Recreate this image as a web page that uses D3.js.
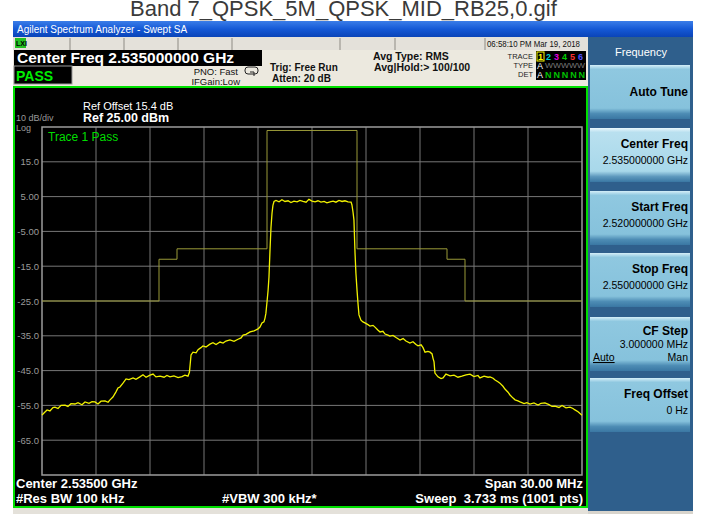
<!DOCTYPE html>
<html>
<head>
<meta charset="utf-8">
<title>Band 7 QPSK 5M</title>
<script src="https://d3js.org/d3.v7.min.js"></script>
<style>
  body { margin: 0; background: #fff; }
  svg { display: block; font-family: "Liberation Sans", Arial, sans-serif; }
</style>
</head>
<body>
<div id="chart"></div>
<script>
// trace 1: frequency offset from center (MHz) and level (dBm)
var traceMHz = [-15.00,-14.89,-14.72,-14.56,-14.39,-14.28,-14.11,-13.94,-13.72,-13.56,-13.39,-13.17,-13.00,-12.78,-12.61,-12.39,-12.22,-12.06,-11.89,-11.72,
  -11.50,-11.33,-11.22,-11.06,-10.89,-10.78,-10.67,-10.50,-10.33,-10.17,-9.94,-9.78,-9.56,-9.39,-9.22,-9.00,-8.83,-8.67,-8.44,-8.22,
  -8.06,-7.89,-7.67,-7.44,-7.22,-7.06,-6.89,-6.81,-6.72,-6.61,-6.44,-6.33,-6.17,-6.06,-5.89,-5.67,-5.50,-5.33,-5.11,-4.94,
  -4.78,-4.56,-4.33,-4.11,-3.94,-3.83,-3.67,-3.44,-3.22,-3.00,-2.89,-2.78,-2.67,-2.61,-2.56,-2.50,-2.44,-2.39,-2.33,-2.28,
  -2.22,-2.17,-2.11,-2.00,-1.83,-1.67,-1.50,-1.33,-1.17,-1.00,-0.83,-0.67,-0.50,-0.33,-0.17,0.00,0.17,0.33,0.50,0.67,
  0.83,1.00,1.17,1.33,1.50,1.67,1.83,2.00,2.17,2.22,2.28,2.33,2.39,2.44,2.50,2.56,2.61,2.72,2.83,2.94,
  3.11,3.22,3.39,3.50,3.67,3.78,3.94,4.06,4.22,4.33,4.50,4.67,4.89,5.06,5.22,5.44,5.61,5.78,5.89,6.06,
  6.17,6.28,6.44,6.56,6.67,6.72,6.78,6.83,7.00,7.17,7.28,7.44,7.67,7.89,8.11,8.33,8.56,8.78,9.00,9.22,
  9.33,9.56,9.78,9.89,10.06,10.17,10.33,10.44,10.61,10.72,10.89,11.00,11.17,11.28,11.44,11.56,11.78,11.94,12.11,12.33,
  12.56,12.72,12.94,13.17,13.33,13.50,13.72,13.89,14.11,14.33,14.50,14.61,14.78,14.89,15.00];
var traceDbm = [-57.8,-57.2,-56.3,-56.6,-55.6,-55.5,-55.9,-55.0,-54.9,-55.3,-54.5,-54.6,-54.2,-54.8,-54.0,-54.4,-53.9,-54.0,-54.6,-53.8,
  -53.7,-54.1,-53.4,-52.6,-51.1,-50.0,-49.7,-48.6,-47.4,-47.6,-47.1,-47.5,-46.8,-46.2,-46.9,-46.3,-46.0,-46.8,-46.6,-46.9,
  -46.4,-46.8,-46.5,-47.0,-46.7,-46.3,-46.6,-45.5,-40.5,-39.7,-39.9,-39.0,-38.4,-37.9,-38.2,-37.4,-37.0,-37.5,-36.8,-37.1,
  -36.5,-36.2,-36.6,-36.0,-35.6,-34.8,-34.6,-33.9,-33.6,-33.0,-32.5,-31.3,-31.0,-29.9,-28.5,-25.3,-22.0,-18.1,-10.0,-4.0,
  0.3,2.5,3.6,3.9,3.5,4.1,3.6,3.8,3.3,3.7,3.5,3.9,3.6,3.4,4.2,3.7,3.5,3.8,3.4,3.6,
  3.2,3.5,3.7,3.4,3.9,3.6,3.8,3.5,3.4,2.6,0.5,-1.7,-11.2,-17.0,-21.8,-26.0,-29.0,-30.5,-31.0,-31.3,
  -31.8,-32.2,-32.0,-32.5,-33.4,-33.9,-33.7,-34.5,-34.8,-35.1,-34.9,-35.5,-36.2,-35.8,-36.5,-37.1,-36.7,-37.5,-37.9,-37.6,
  -38.4,-39.7,-39.5,-39.7,-40.2,-41.4,-42.5,-45.7,-46.8,-47.3,-47.1,-46.0,-46.5,-46.3,-46.9,-46.6,-46.2,-46.0,-46.7,-46.4,
  -47.1,-46.6,-46.9,-46.8,-47.2,-47.7,-48.2,-48.6,-49.5,-50.3,-51.2,-52.0,-52.9,-53.4,-53.7,-54.0,-54.5,-54.2,-54.6,-54.3,
  -54.9,-54.4,-54.3,-54.8,-55.3,-55.2,-55.6,-55.0,-55.7,-55.5,-55.9,-56.3,-56.8,-57.3,-57.8];

// limit mask: segment edges (MHz offset) and level of each segment (dBm)
var maskEdges = [-15, -8.5, -7.5, -2.5, 2.5, 7.5, 8.5, 15];
var maskLevels = [-25, -13, -10, 24, -10, -13, -25];

var yTicks = [15, 5, -5, -15, -25, -35, -45, -55, -65];
var yTickLabels = ["15.0", "5.00", "-5.00", "-15.0", "-25.0", "-35.0", "-45.0", "-55.0", "-65.0"];
var xTicks = [-12, -9, -6, -3, 0, 3, 6, 9, 12];

var softkeys = [
  { title: "Auto Tune", value: "" },
  { title: "Center Freq", value: "2.535000000 GHz" },
  { title: "Start Freq", value: "2.520000000 GHz" },
  { title: "Stop Freq", value: "2.550000000 GHz" },
  { title: "CF Step", value: "3.000000 MHz" },
  { title: "Freq Offset", value: "0 Hz" }
];

var W = 702, H = 514;
var svg = d3.select("#chart").append("svg").attr("width", W).attr("height", H);

var defs = svg.append("defs");
var tg = defs.append("linearGradient").attr("id", "tbar").attr("x1", 0).attr("y1", 0).attr("x2", 0).attr("y2", 1);
tg.append("stop").attr("offset", "0").attr("stop-color", "#3b7de8");
tg.append("stop").attr("offset", "0.5").attr("stop-color", "#1559d6");
tg.append("stop").attr("offset", "1").attr("stop-color", "#0a44b8");
var kg = defs.append("linearGradient").attr("id", "key").attr("x1", 0).attr("y1", 0).attr("x2", 0).attr("y2", 1);
kg.append("stop").attr("offset", "0").attr("stop-color", "#d4eef8");
kg.append("stop").attr("offset", "0.08").attr("stop-color", "#8fc8e0");
kg.append("stop").attr("offset", "0.8").attr("stop-color", "#86c2dc");
kg.append("stop").attr("offset", "0.9").attr("stop-color", "#4d8cb4");
kg.append("stop").attr("offset", "1").attr("stop-color", "#3a77a3");
var kg2 = defs.append("linearGradient").attr("id", "keySel").attr("x1", 0).attr("y1", 0).attr("x2", 0).attr("y2", 1);
kg2.append("stop").attr("offset", "0").attr("stop-color", "#eaf7fc");
kg2.append("stop").attr("offset", "0.08").attr("stop-color", "#b9e0ef");
kg2.append("stop").attr("offset", "0.8").attr("stop-color", "#a8d8ea");
kg2.append("stop").attr("offset", "0.9").attr("stop-color", "#5d98bd");
kg2.append("stop").attr("offset", "1").attr("stop-color", "#3a77a3");

// file name above the window (top is cut off in the original)
svg.append("text").attr("x", 130).attr("y", 16).attr("fill", "#3a3a3a")
  .style("font-size", "22px").text("Band 7_QPSK_5M_QPSK_MID_RB25,0.gif");

// window frame
svg.append("rect").attr("x", 13).attr("y", 21).attr("width", 680).attr("height", 493).attr("fill", "#d8d4cc");
svg.append("rect").attr("x", 13).attr("y", 21).attr("width", 680).attr("height", 16).attr("fill", "url(#tbar)");
svg.append("text").attr("x", 17).attr("y", 33).attr("fill", "#fff").style("font-size", "10px")
  .text("Agilent Spectrum Analyzer - Swept SA");

// status row
svg.append("rect").attr("x", 13).attr("y", 37).attr("width", 575).attr("height", 13).attr("fill", "#e4e1da");
svg.append("rect").attr("x", 15).attr("y", 38).attr("width", 11).attr("height", 10).attr("fill", "#22c022");
svg.append("text").attr("x", 16).attr("y", 46).attr("fill", "#000").style("font-size", "7px").style("font-weight", "bold").text("LXI");
var status = [[34, "R L"], [92, "RF"], [128, "50 \u03a9"], [159, "DC"], [300, "SENSE:INT"], [420, "ALIGN AUTO"]];
svg.selectAll(".st").data(status).enter().append("text")
  .attr("x", d => d[0]).attr("y", 47).attr("fill", "#666").style("font-size", "9px").text(d => d[1]);
svg.selectAll(".sep").data([70, 124, 178, 232, 340, 395, 485]).enter().append("line")
  .attr("x1", d => d).attr("x2", d => d).attr("y1", 38).attr("y2", 50).attr("stroke", "#8e8b84");
svg.append("text").attr("x", 487).attr("y", 47).attr("fill", "#111").style("font-size", "8.5px")
  .attr("textLength", 93).attr("lengthAdjust", "spacingAndGlyphs")
  .text("06:58:10 PM Mar 19, 2018");

// header area
svg.append("rect").attr("x", 13).attr("y", 50).attr("width", 575).attr("height", 37).attr("fill", "#ece9df");
svg.append("rect").attr("x", 14).attr("y", 50).attr("width", 248).attr("height", 16).attr("fill", "#000");
svg.append("text").attr("x", 17).attr("y", 63).attr("fill", "#fff").style("font-size", "15.5px").style("font-weight", "bold")
  .text("Center Freq 2.535000000 GHz");
svg.append("rect").attr("x", 14).attr("y", 66).attr("width", 58).attr("height", 18).attr("fill", "#000")
  .attr("stroke", "#9a9a9a");
svg.append("text").attr("x", 16).attr("y", 81).attr("fill", "#00ee00").style("font-size", "14px").style("font-weight", "bold")
  .text("PASS");
svg.append("text").attr("x", 238).attr("y", 75).attr("text-anchor", "end").attr("fill", "#111").style("font-size", "9.5px").text("PNO: Fast");
svg.append("text").attr("x", 240).attr("y", 85).attr("text-anchor", "end").attr("fill", "#111").style("font-size", "9.5px").text("IFGain:Low");
svg.append("rect").attr("x", 245).attr("y", 67).attr("width", 13).attr("height", 7).attr("rx", 3)
  .attr("fill", "none").attr("stroke", "#222");
svg.append("path").attr("d", "M250,72 L254,72 L254,76").attr("fill", "none").attr("stroke", "#222");
svg.append("text").attr("x", 270).attr("y", 71).attr("fill", "#111").style("font-size", "10px").style("font-weight", "bold").text("Trig: Free Run");
svg.append("text").attr("x", 272).attr("y", 82).attr("fill", "#111").style("font-size", "10px").style("font-weight", "bold").text("Atten: 20 dB");
svg.append("text").attr("x", 373).attr("y", 60).attr("fill", "#111").style("font-size", "10.5px").style("font-weight", "bold").text("Avg Type: RMS");
svg.append("text").attr("x", 374).attr("y", 71).attr("fill", "#111").style("font-size", "10.5px").style("font-weight", "bold").text("Avg|Hold:> 100/100");

// trace indicator box
svg.selectAll(".tl").data([[59, "TRACE"], [68, "TYPE"], [77, "DET"]]).enter().append("text")
  .attr("x", 533).attr("y", d => d[0]).attr("text-anchor", "end").attr("fill", "#222").style("font-size", "7.5px").text(d => d[1]);
svg.append("rect").attr("x", 536).attr("y", 51).attr("width", 50).attr("height", 29).attr("fill", "#000");
var trColors = ["#ffff00", "#00d0d0", "#e000e0", "#00d000", "#ff3030", "#5050ff"];
svg.append("rect").attr("x", 537).attr("y", 52).attr("width", 7).attr("height", 9).attr("fill", "#000").attr("stroke", "#ffff00");
svg.selectAll(".tn").data(trColors).enter().append("text")
  .attr("x", (d, i) => 538 + i * 8).attr("y", 60).attr("fill", d => d).style("font-size", "9px").style("font-weight", "bold")
  .text((d, i) => i + 1);
svg.append("text").attr("x", 537).attr("y", 69).attr("fill", "#fff").style("font-size", "9px").text("A");
svg.append("text").attr("x", 545).attr("y", 68).attr("fill", "#777").attr("textLength", 40).attr("lengthAdjust", "spacingAndGlyphs")
  .style("font-size", "6.5px").text("WWWWW");
svg.append("text").attr("x", 537).attr("y", 78).attr("fill", "#fff").style("font-size", "9px").text("A");
svg.append("text").attr("x", 545).attr("y", 78).attr("fill", "#00c000").attr("textLength", 40)
  .style("font-size", "9px").style("font-weight", "bold").text("NNNNN");

// display area
svg.append("rect").attr("x", 14).attr("y", 87).attr("width", 573).attr("height", 420).attr("fill", "#000")
  .attr("stroke", "#00e000").attr("stroke-width", 2);

var gx0 = 42, gx1 = 582, gy0 = 127, gy1 = 475;
var x = d3.scaleLinear().domain([-15, 15]).range([gx0, gx1]);
var y = d3.scaleLinear().domain([-75, 25]).range([gy1, gy0]);

var grid = svg.append("g");
grid.selectAll(".hg").data(yTicks).enter().append("line")
  .attr("x1", gx0).attr("x2", gx1).attr("y1", d => y(d)).attr("y2", d => y(d))
  .attr("stroke", "#777").attr("stroke-width", 1);
grid.selectAll(".vg").data(xTicks).enter().append("line")
  .attr("y1", gy0).attr("y2", gy1).attr("x1", d => x(d)).attr("x2", d => x(d))
  .attr("stroke", "#777").attr("stroke-width", 1);
grid.append("rect").attr("x", gx0).attr("y", gy0).attr("width", gx1 - gx0).attr("height", gy1 - gy0)
  .attr("fill", "none").attr("stroke", "#9c9c9c").attr("stroke-width", 1.5);

var yAxis = d3.axisLeft(y).tickValues(yTicks).tickFormat((d, i) => yTickLabels[i]).tickSize(0).tickPadding(3);
var ya = svg.append("g").attr("transform", "translate(" + gx0 + ",0)").call(yAxis);
ya.select(".domain").remove();
ya.selectAll("text").attr("fill", "#9a9a9a").style("font-size", "9.5px").style("font-family", "Liberation Sans, Arial, sans-serif");

svg.append("text").attr("x", 83).attr("y", 110).attr("fill", "#fff").style("font-size", "11px").text("Ref Offset 15.4 dB");
svg.append("text").attr("x", 83).attr("y", 122).attr("fill", "#fff").style("font-size", "12.5px").style("font-weight", "bold")
  .text("Ref 25.00 dBm");
svg.append("text").attr("x", 16).attr("y", 121).attr("fill", "#9a9a9a").style("font-size", "9px").text("10 dB/div");
svg.append("text").attr("x", 16).attr("y", 130.5).attr("fill", "#9a9a9a").style("font-size", "9px").text("Log");
svg.append("text").attr("x", 48).attr("y", 141).attr("fill", "#00dd00").style("font-size", "12px").text("Trace 1 Pass");

// mask
var maskPts = maskLevels.map((v, i) => [maskEdges[i], v]);
maskPts.push([maskEdges[maskEdges.length - 1], maskLevels[maskLevels.length - 1]]);
svg.append("path").datum(maskPts)
  .attr("d", d3.line().x(d => x(d[0])).y(d => y(d[1])).curve(d3.curveStepAfter))
  .attr("fill", "none").attr("stroke", "#9a9a38").attr("stroke-width", 1);

// trace
svg.append("path").datum(traceMHz.map((f, i) => [f, traceDbm[i]]))
  .attr("d", d3.line().x(d => x(d[0])).y(d => y(d[1])))
  .attr("fill", "none").attr("stroke", "#f2f200").attr("stroke-width", 1.3);

// bottom annotations
var bt = [[16, 488, "start", "Center 2.53500 GHz"], [583, 488, "end", "Span 30.00 MHz"],
  [16, 503, "start", "#Res BW 100 kHz"], [222, 503, "start", "#VBW 300 kHz*"], [583, 503, "end", "Sweep  3.733 ms (1001 pts)"]];
svg.selectAll(".bt").data(bt).enter().append("text")
  .attr("x", d => d[0]).attr("y", d => d[1]).attr("text-anchor", d => d[2])
  .attr("fill", "#fff").style("font-size", "13px").style("font-weight", "bold").style("white-space", "pre")
  .text(d => d[3]);

// status strip under display
svg.append("rect").attr("x", 13).attr("y", 508).attr("width", 575).attr("height", 6).attr("fill", "#e4e1da");

// softkey panel
svg.append("rect").attr("x", 588).attr("y", 37).attr("width", 105).attr("height", 474).attr("fill", "#2f5f8c");
svg.append("text").attr("x", 641).attr("y", 56).attr("text-anchor", "middle").attr("fill", "#fff")
  .style("font-size", "11px").text("Frequency");
var keyTops = [65, 128, 191, 253, 317, 378];
var keys = svg.selectAll(".key").data(softkeys).enter().append("g")
  .attr("transform", (d, i) => "translate(590," + keyTops[i] + ")");
keys.append("rect").attr("width", 100).attr("height", 54)
  .attr("fill", (d, i) => i === 1 ? "url(#keySel)" : "url(#key)");
keys.append("text").attr("x", 98).attr("y", (d, i) => d.value ? (i === 4 ? 18 : 20) : 31).attr("text-anchor", "end").attr("fill", "#000")
  .style("font-size", "12px").style("font-weight", "bold").text(d => d.title);
keys.append("text").attr("x", 98).attr("y", (d, i) => i === 4 ? 31 : 36).attr("text-anchor", "end").attr("fill", "#000")
  .style("font-size", "10.5px").text(d => d.value);
var cf = keys.filter((d, i) => i === 4);
cf.append("text").attr("x", 3).attr("y", 44).attr("fill", "#000").style("font-size", "10.5px")
  .style("text-decoration", "underline").text("Auto");
cf.append("text").attr("x", 98).attr("y", 44).attr("text-anchor", "end").attr("fill", "#000").style("font-size", "10.5px").text("Man");
</script>
</body>
</html>
